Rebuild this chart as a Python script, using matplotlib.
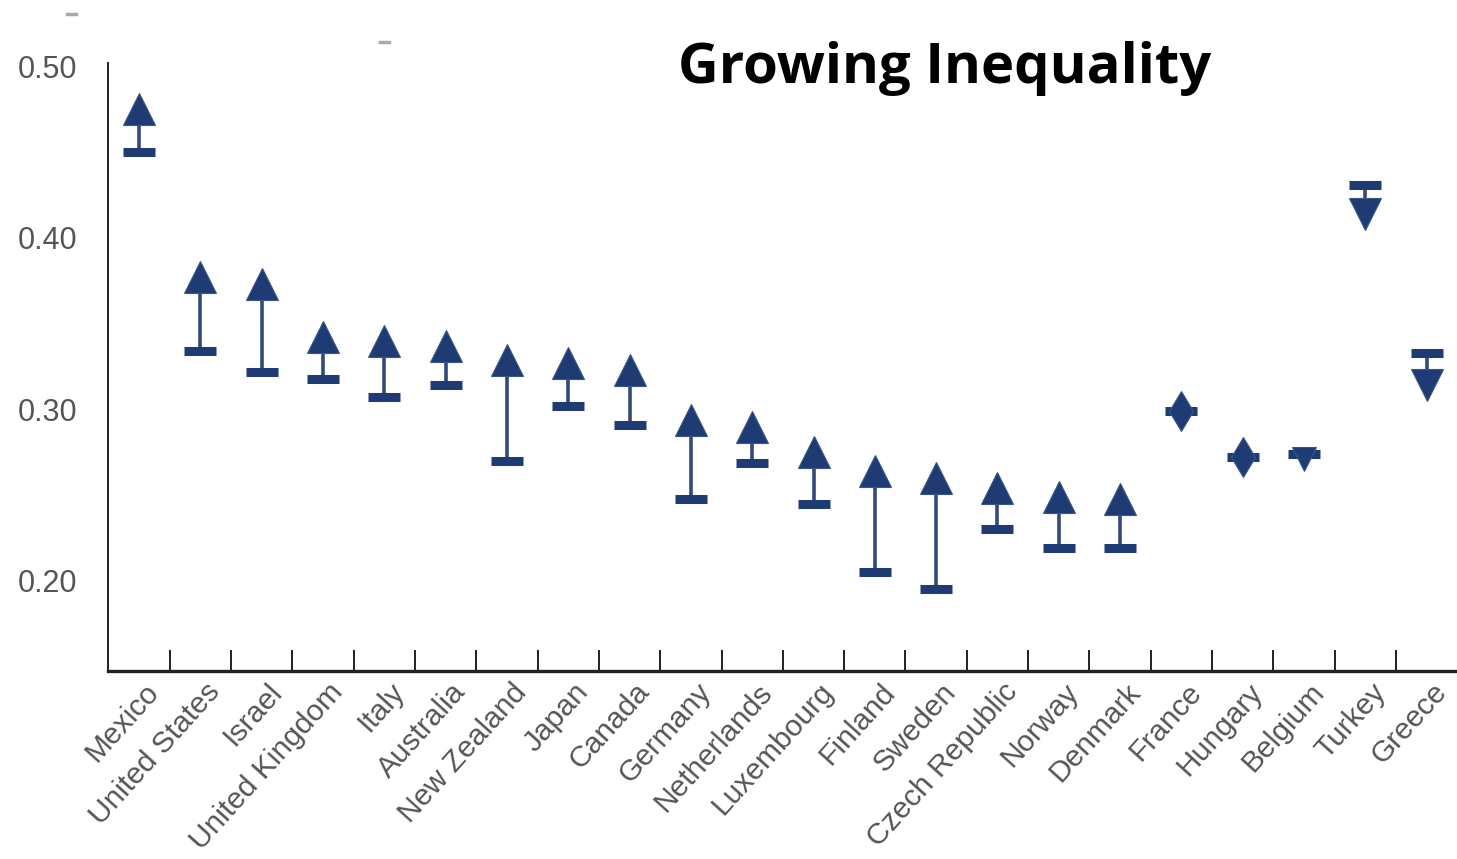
import matplotlib.pyplot as plt
import matplotlib.transforms as mtransforms
import numpy as np

countries = ['Mexico', 'United States', 'Israel', 'United Kingdom', 'Italy',
             'Australia', 'New Zealand', 'Japan', 'Canada', 'Germany',
             'Netherlands', 'Luxembourg', 'Finland', 'Sweden', 'Czech Republic',
             'Norway', 'Denmark', 'France', 'Hungary', 'Belgium', 'Turkey', 'Greece']
# Gini coefficient, mid-1980s (bar) and late-2000s (arrow head)
gini_start = [0.450, 0.334, 0.322, 0.318, 0.307, 0.314, 0.270, 0.302, 0.291, 0.248,
              0.269, 0.245, 0.205, 0.195, 0.230, 0.219, 0.219, 0.299, 0.272, 0.274,
              0.431, 0.333]
gini_end = [0.475, 0.377, 0.373, 0.342, 0.340, 0.337, 0.329, 0.327, 0.323, 0.294,
            0.290, 0.275, 0.264, 0.260, 0.254, 0.249, 0.248, 0.299, 0.272, 0.271,
            0.414, 0.314]
y_ticks = [0.20, 0.30, 0.40, 0.50]

navy = '#1f3b74'
stem = '#34497a'

fig = plt.figure(figsize=(14.57, 8.59), dpi=100)
ax = fig.add_axes([0.0743, 0.2189, 0.926, 0.7078])

x = np.arange(len(countries))
for xi, a, b in zip(x, gini_start, gini_end):
    d = b - a
    ax.plot([xi, xi], [a, b], color=stem, lw=2.6, zorder=2)
    ax.plot(xi, a, marker='_', ms=23, mew=6.5, color=navy, zorder=3)
    if abs(d) < 0.002:
        ax.plot(xi, b, marker='d', ms=20, color=navy, mec='#3a5688', mew=0.8, zorder=4)
    elif abs(d) < 0.005:
        ax.plot(xi, b, marker='v' if d < 0 else '^', ms=17, color=navy,
                mec='#3a5688', mew=0.8, zorder=4)
    else:
        ax.plot(xi, b, marker='v' if d < 0 else '^', ms=23, color=navy,
                mec='#3a5688', mew=0.8, zorder=4)

ax.set_xlim(-0.5, 21.5)
ax.set_ylim(0.1475, 0.502)

ax.spines['top'].set_visible(False)
ax.spines['right'].set_visible(False)
ax.spines['left'].set_linewidth(1.4)
ax.spines['bottom'].set_linewidth(2.4)
ax.spines['left'].set_color('#222222')
ax.spines['bottom'].set_color('#222222')

ax.set_yticks(y_ticks)
ax.set_yticklabels(['%.2f' % v for v in y_ticks], family='Liberation Sans',
                   fontsize=22, color='#555555')
ax.tick_params(axis='y', length=0, pad=22)

ax.set_xticks(x)
ax.set_xticklabels(countries, rotation=48, ha='right', va='top',
                   rotation_mode='anchor', family='Liberation Sans',
                   fontsize=21.5, color='#555555')
ax.tick_params(axis='x', which='major', length=0, pad=5)
shift = mtransforms.ScaledTranslation(5 / 100, 0, fig.dpi_scale_trans)
for lbl in ax.get_xticklabels():
    lbl.set_transform(lbl.get_transform() + shift)
ax.set_xticks(x[:-1] + 0.5, minor=True)
ax.tick_params(axis='x', which='minor', direction='in', length=15, width=1.4,
               color='#222222')

fig.text(0.6485, 0.9034, 'Growing Inequality', family='Open Sans',
         fontweight='bold', fontsize=40.5, ha='center', va='baseline', color='black')

# faint marks at the very top of the scan
fig.add_artist(plt.Line2D([0.046, 0.052], [0.984, 0.984], color='#aaaaaa', lw=2.5))
fig.add_artist(plt.Line2D([0.261, 0.267], [0.951, 0.951], color='#aaaaaa', lw=2.5))

plt.savefig('out.png', dpi=100)
